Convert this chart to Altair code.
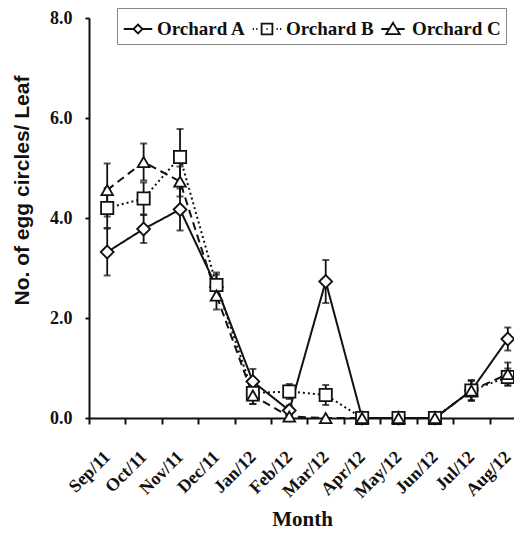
import altair as alt
import pandas as pd

months = ["Sep/11", "Oct/11", "Nov/11", "Dec/11", "Jan/12", "Feb/12",
          "Mar/12", "Apr/12", "May/12", "Jun/12", "Jul/12", "Aug/12"]
series = ["Orchard A", "Orchard B", "Orchard C"]

orchard_a = [3.32, 3.78, 4.17, 2.62, 0.73, 0.15, 2.73, 0.0, 0.0, 0.0, 0.55, 1.58]
orchard_a_err = [0.47, 0.28, 0.42, 0.25, 0.25, 0.10, 0.43, 0.0, 0.0, 0.0, 0.20, 0.23]
orchard_b = [4.20, 4.39, 5.22, 2.66, 0.50, 0.53, 0.46, 0.0, 0.0, 0.0, 0.55, 0.82]
orchard_b_err = [0.40, 0.32, 0.56, 0.25, 0.22, 0.15, 0.20, 0.0, 0.0, 0.0, 0.20, 0.17]
orchard_c = [4.56, 5.12, 4.73, 2.45, 0.45, 0.03, 0.0, 0.0, 0.0, 0.0, 0.55, 0.88]
orchard_c_err = [0.53, 0.37, 0.30, 0.28, 0.17, 0.0, 0.0, 0.0, 0.0, 0.0, 0.20, 0.23]

y_ticks = [0, 2, 4, 6, 8]

marker_shapes = ["diamond", "square", "triangle-up"]
marker_sizes = [165, 135, 200]
line_dashes = [[1, 0], [2, 3], [8, 5]]
legend_paths = [
    "M-0.95,0L-0.3,0M0.3,0L0.95,0M-0.3,0L0,-0.3L0.3,0L0,0.3Z",
    "M-0.95,0L-0.87,0M-0.72,0L-0.64,0M0.64,0L0.72,0M0.87,0L0.95,0"
    "M-0.36,-0.36L0.36,-0.36L0.36,0.36L-0.36,0.36ZM-0.04,0L0.04,0",
    "M-0.78,0L-0.26,0M0.26,0L0.78,0M-0.45,0.34L0.45,0.34L0,-0.42Z",
]

rows = []
for name, vals, errs in [("Orchard A", orchard_a, orchard_a_err),
                         ("Orchard B", orchard_b, orchard_b_err),
                         ("Orchard C", orchard_c, orchard_c_err)]:
    for m, v, e in zip(months, vals, errs):
        rows.append({"month": m, "orchard": name, "value": v,
                     "lo": v - e, "hi": v + e, "err": e})
df = pd.DataFrame(rows)

serif = "Liberation Serif"
sans = "Liberation Sans"
ink = "#111111"

x_scale = alt.Scale(type="band", domain=months, paddingInner=0, paddingOuter=0, range=[0, 437])
x_enc = alt.X(
    "month:N", sort=months, scale=x_scale,
    axis=alt.Axis(
        title="Month", titleFont=serif, titleFontSize=21, titleFontWeight="bold",
        titleColor=ink, titleY=107, titleX=213, titleBaseline="alphabetic",
        labelAngle=-45, labelAlign="right", labelBaseline="middle",
        labelFont=serif, labelFontSize=18, labelFontWeight="bold", labelColor=ink,
        labelPadding=30, labelOffset=0,
        tickBand="extent", tickSize=6, tickWidth=2, tickColor=ink,
        domainColor=ink, domainWidth=2, grid=False,
    ),
)
y_scale = alt.Scale(domain=[0, 8], nice=False)
y_enc = alt.Y(
    "value:Q", scale=y_scale,
    axis=alt.Axis(
        values=y_ticks, format=".1f",
        title="No. of egg circles/ Leaf", titleFont=sans, titleFontSize=21,
        titleFontWeight="bold", titleColor=ink, titleAngle=-90,
        titleX=-57, titleY=172, titleAlign="center", titleBaseline="bottom",
        labelFont=serif, labelFontSize=18, labelFontWeight="bold", labelColor=ink,
        labelPadding=13, tickSize=4, tickWidth=2, tickColor=ink,
        domainColor=ink, domainWidth=2, grid=False,
    ),
)

base = alt.Chart(df)

lines = base.mark_line(strokeWidth=2, color=ink).encode(
    x=x_enc, y=y_enc,
    strokeDash=alt.StrokeDash("orchard:N", scale=alt.Scale(domain=series, range=line_dashes), legend=None),
    detail="orchard:N",
)

err_data = base.transform_filter("datum.err > 0")
err_rules = err_data.mark_rule(strokeWidth=1.8, color=ink).encode(
    x=alt.X("month:N", sort=months),
    y=alt.Y("lo:Q", scale=y_scale),
    y2="hi:Q",
)
err_lo = err_data.mark_tick(size=7, thickness=2, color=ink).encode(
    x=alt.X("month:N", sort=months), y=alt.Y("lo:Q", scale=y_scale))
err_hi = err_data.mark_tick(size=7, thickness=2, color=ink).encode(
    x=alt.X("month:N", sort=months), y=alt.Y("hi:Q", scale=y_scale))

points = base.mark_point(filled=True, fill="white", stroke=ink, strokeWidth=1.8, opacity=1).encode(
    x=alt.X("month:N", sort=months),
    y=alt.Y("value:Q", scale=y_scale),
    shape=alt.Shape("orchard:N", scale=alt.Scale(domain=series, range=marker_shapes), legend=None),
    size=alt.Size("orchard:N", scale=alt.Scale(domain=series, range=marker_sizes), legend=None),
)

legend_layer = base.transform_filter("false").mark_point(
    filled=False, color=ink, strokeWidth=1.8, opacity=1
).encode(
    shape=alt.Shape(
        "orchard:N",
        scale=alt.Scale(domain=series, range=legend_paths),
        legend=alt.Legend(
            title=None, orient="none", legendX=28, legendY=-10,
            direction="horizontal", columns=3,
            labelFont=serif, labelFontSize=19, labelFontWeight="bold", labelColor=ink,
            labelOffset=3, columnPadding=3, padding=5,
            symbolSize=900, symbolStrokeColor=ink,
            symbolStrokeWidth=1.8, symbolOpacity=1,
            strokeColor="#888888",
        ),
    )
)

chart = alt.layer(lines, err_rules, err_lo, err_hi, points, legend_layer).resolve_scale(
    shape="independent"
).properties(
    width=425, height=400,
    autosize=alt.AutoSizeParams(type="none"),
    padding={"left": 81, "top": 10, "right": 0, "bottom": 112},
).configure_view(stroke=None)

chart.save("out.html", embed_options={"renderer": "svg", "actions": False})
